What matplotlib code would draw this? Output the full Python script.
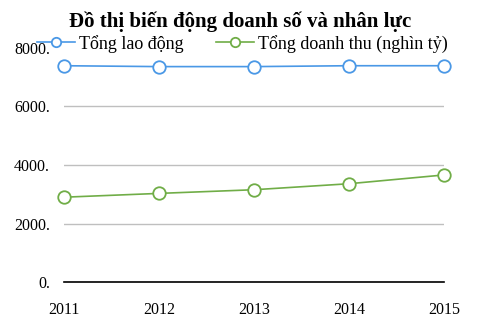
import matplotlib.pyplot as plt

plt.rcParams['font.family'] = ['Liberation Serif', 'DejaVu Serif']

years = [2011, 2012, 2013, 2014, 2015]
lao_dong = [7390, 7360, 7360, 7390, 7390]
doanh_thu = [2900, 3030, 3155, 3360, 3660]
yticks = [0, 2000, 4000, 6000, 8000]

fig = plt.figure(figsize=(4.8, 3.17), dpi=100)
ax = fig.add_axes([0.133, 0.110, 0.792, 0.739])

ax.plot(years, lao_dong, color='#4a98e6', lw=1.2, marker='o', ms=9,
        mfc='white', mec='#4a98e6', mew=1.3, clip_on=False, label='Tổng lao động', zorder=3)
ax.plot(years, doanh_thu, color='#70ad47', lw=1.2, marker='o', ms=9,
        mfc='white', mec='#70ad47', mew=1.3, clip_on=False, label='Tổng doanh thu (nghìn tỷ)', zorder=3)

ax.set_xlim(2011, 2015)
ax.set_ylim(0, 8000)
ax.set_xticks(years)
ax.set_yticks(yticks)
ax.set_yticklabels([f'{v}.' for v in yticks])
ax.grid(axis='y', color='#bfbfbf', lw=1)
ax.get_ygridlines()[-1].set_visible(False)  # top line hidden under legend
ax.set_axisbelow(True)
for s in ['top', 'right', 'left']:
    ax.spines[s].set_visible(False)
ax.spines['bottom'].set_color('black')
ax.spines['bottom'].set_linewidth(1.2)
ax.spines['bottom'].set_zorder(2)
ax.tick_params(length=0, labelsize=11.5)
ax.tick_params(axis='y', pad=10)
ax.tick_params(axis='x', pad=14)

fig.text(0.5, 0.932, 'Đồ thị biến động doanh số và nhân lực', ha='center', va='center',
         fontsize=15, fontweight='bold')
fig.legend(loc='center', bbox_to_anchor=(0.505, 0.862), ncol=2, frameon=False,
           fontsize=13, handlelength=2.1, columnspacing=1.8, handletextpad=0.2,
           markerscale=0.75, borderpad=0)

fig.savefig('out.png', dpi=100)
